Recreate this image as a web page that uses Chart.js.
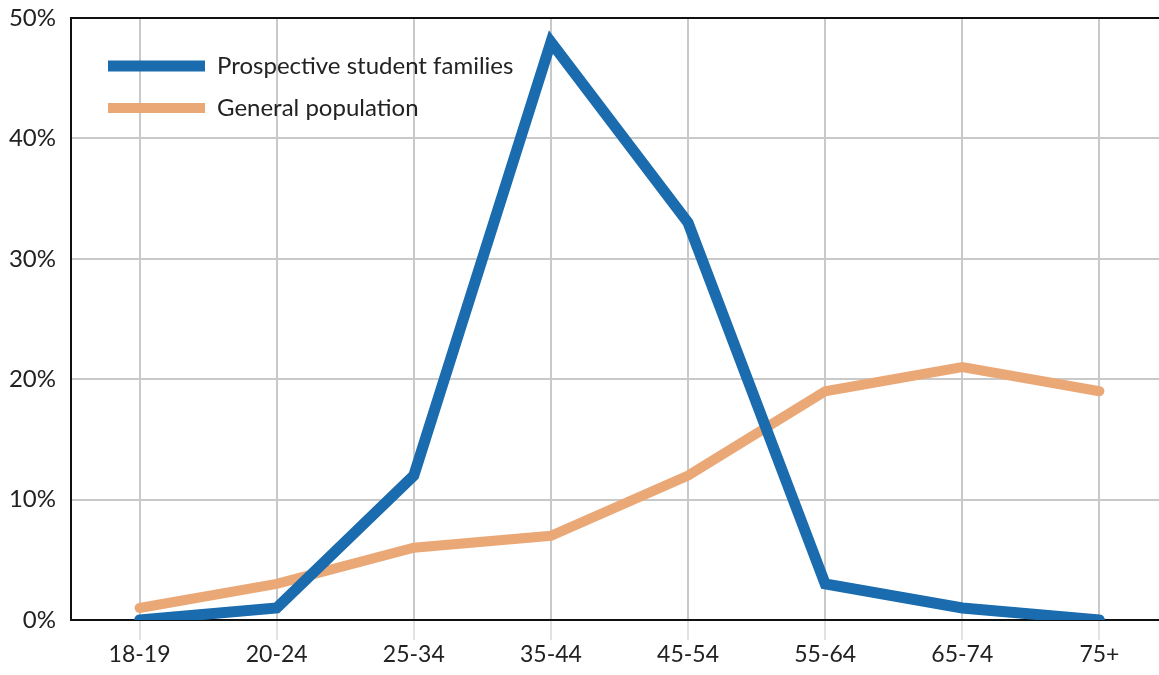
<!DOCTYPE html>
<html>
<head>
<meta charset="utf-8">
<script src="https://cdn.jsdelivr.net/npm/chart.js@4/dist/chart.umd.min.js"></script>
<style>
  body { margin: 0; background: #fff; overflow: hidden; }
  #wrap { width: 1168px; height: 675px; }
</style>
</head>
<body>
<div id="wrap"><canvas id="line-chart" width="1168" height="675"></canvas></div>
<script>
const ageGroups = ['18-19', '20-24', '25-34', '35-44', '45-54', '55-64', '65-74', '75+'];
const studentFamilies = [0, 1, 12, 48, 33, 3, 1, 0];
const generalPopulation = [1, 3, 6, 7, 12, 19, 21, 19];
const yTicks = [0, 10, 20, 30, 40, 50];

const FONT = 'Lato, "Open Sans", sans-serif';

// black frame line along the top of the plot
const topBorder = {
  id: 'topBorder',
  afterDraw(chart) {
    const a = chart.chartArea;
    const c = chart.ctx;
    c.save();
    c.strokeStyle = '#111';
    c.lineWidth = 2;
    c.beginPath();
    c.moveTo(a.left, a.top);
    c.lineTo(a.right, a.top);
    c.stroke();
    c.restore();
  }
};

// nudge the in-plot legend away from the corner
const legendNudge = {
  id: 'legendNudge',
  afterLayout(chart) {
    chart.legend.left += 19;
    chart.legend.top += 36;
  }
};

const ctx = document.getElementById('line-chart');

new Chart(ctx, {
  type: 'line',
  data: {
    labels: ageGroups,
    datasets: [
      {
        label: 'Prospective student families',
        data: studentFamilies,
        borderColor: '#1a6cae',
        backgroundColor: '#1a6cae',
        borderWidth: 11,
        borderCapStyle: 'round',
        pointRadius: 0,
        tension: 0,
        order: 1
      },
      {
        label: 'General population',
        data: generalPopulation,
        borderColor: '#eba877',
        backgroundColor: '#eba877',
        borderWidth: 10,
        borderCapStyle: 'round',
        pointRadius: 0,
        tension: 0,
        order: 2
      }
    ]
  },
  options: {
    responsive: false,
    animation: false,
    layout: { padding: { top: 18, right: 0, bottom: 0, left: 0 } },
    plugins: {
      legend: {
        position: 'chartArea',
        align: 'start',
        labels: {
          usePointStyle: true,
          pointStyle: 'line',
          pointStyleWidth: 97,
          boxHeight: 10,
          padding: 18,
          color: '#222',
          font: { family: FONT, size: 24 }
        }
      },
      tooltip: { enabled: false }
    },
    scales: {
      x: {
        offset: true,
        afterFit(scale) {
          scale.height = 55;
          scale.paddingLeft = 0;
          scale.paddingRight = 0;
        },
        grid: {
          offset: false,
          color: '#c9c9c9',
          lineWidth: 2,
          tickLength: 20,
          tickColor: '#e2e2e2',
          drawTicks: true
        },
        border: { color: '#111', width: 2 },
        ticks: {
          padding: 1,
          color: '#222',
          font: { family: FONT, size: 23 }
        }
      },
      y: {
        min: 0,
        max: 50,
        afterFit(scale) {
          scale.width = 71;
          scale.paddingTop = 0;
          scale.paddingBottom = 0;
        },
        afterBuildTicks(scale) { scale.ticks = yTicks.map(v => ({ value: v })); },
        grid: {
          color: '#c9c9c9',
          lineWidth: 2,
          drawTicks: false
        },
        border: { color: '#111', width: 2 },
        ticks: {
          padding: 15,
          color: '#222',
          font: { family: FONT, size: 24 },
          callback: v => v + '%'
        }
      }
    }
  },
  plugins: [topBorder, legendNudge]
});
</script>
</body>
</html>
